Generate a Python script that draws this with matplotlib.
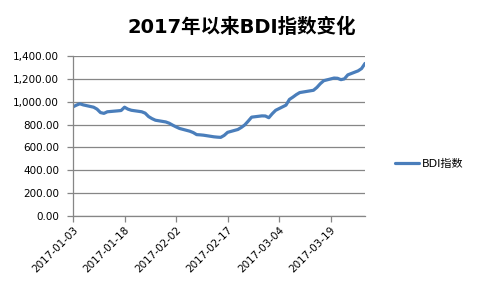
import matplotlib
matplotlib.use("Agg")
import matplotlib.pyplot as plt
import matplotlib.dates as mdates
import matplotlib.ticker as mticker
import numpy as np
import datetime as dt

plt.rcParams['font.family'] = ['DejaVu Sans', 'Noto Sans CJK SC']

title = "2017年以来BDI指数变化"
series_name = "BDI指数"

dates = [
    "2017-01-03", "2017-01-04", "2017-01-05", "2017-01-06",
    "2017-01-09", "2017-01-10", "2017-01-11", "2017-01-12", "2017-01-13",
    "2017-01-16", "2017-01-17", "2017-01-18", "2017-01-19", "2017-01-20",
    "2017-01-23", "2017-01-24", "2017-01-25", "2017-01-26", "2017-01-27",
    "2017-01-30", "2017-01-31", "2017-02-01", "2017-02-02", "2017-02-03",
    "2017-02-06", "2017-02-07", "2017-02-08", "2017-02-09", "2017-02-10",
    "2017-02-13", "2017-02-14", "2017-02-15", "2017-02-16", "2017-02-17",
    "2017-02-20", "2017-02-21", "2017-02-22", "2017-02-23", "2017-02-24",
    "2017-02-27", "2017-02-28", "2017-03-01", "2017-03-02", "2017-03-03",
    "2017-03-06", "2017-03-07", "2017-03-08", "2017-03-09", "2017-03-10",
    "2017-03-13", "2017-03-14", "2017-03-15", "2017-03-16", "2017-03-17",
    "2017-03-20", "2017-03-21", "2017-03-22", "2017-03-23", "2017-03-24",
    "2017-03-27", "2017-03-28", "2017-03-29",
]
bdi = [
    955, 970, 982, 972,
    952, 935, 905, 898, 912,
    920, 923, 952, 935, 925,
    912, 900, 870, 852, 838,
    823, 812, 795, 780, 766,
    742, 730, 712, 710, 707,
    693, 690, 688, 705, 732,
    757, 775, 797, 830, 865,
    876, 875, 860, 895, 925,
    970, 1020, 1040, 1062, 1080,
    1095, 1100, 1125, 1158, 1184,
    1207, 1205, 1193, 1200, 1235,
    1270, 1290, 1335,
]
tick_dates = ["2017-01-03", "2017-01-18", "2017-02-02", "2017-02-17", "2017-03-04", "2017-03-19"]
y_ticks = [0, 200, 400, 600, 800, 1000, 1200, 1400]

x = [dt.datetime.strptime(d, "%Y-%m-%d") for d in dates]
xt = [dt.datetime.strptime(d, "%Y-%m-%d") for d in tick_dates]

fig = plt.figure(figsize=(4.84, 2.92), dpi=100)
ax = fig.add_axes([73/484, 1 - 216/292, (365-73)/484, (216-56)/292])

line, = ax.plot(x, bdi, color="#4A7EBB", lw=2.3, solid_joinstyle="round", solid_capstyle="round",
                label=series_name)

ax.set_xlim(x[0], x[-1])
ax.set_ylim(0, 1400)
ax.set_yticks(y_ticks)
ax.yaxis.set_major_formatter(mticker.FuncFormatter(lambda v, p: f"{v:,.2f}"))
ax.set_xticks(xt)
ax.xaxis.set_major_formatter(mdates.DateFormatter("%Y-%m-%d"))
for lab in ax.get_xticklabels():
    lab.set_rotation(45)
    lab.set_ha("right")
    lab.set_rotation_mode("anchor")

ax.grid(axis="y", color="#868686", lw=0.9)
ax.set_axisbelow(True)
for s in ["top", "right"]:
    ax.spines[s].set_visible(False)
for s in ["left", "bottom"]:
    ax.spines[s].set_color("#868686")
    ax.spines[s].set_linewidth(0.9)
ax.tick_params(axis="both", colors="#868686", labelcolor="black", labelsize=7.5, length=4, width=0.9)
ax.tick_params(axis="y", pad=6)
ax.tick_params(axis="x", pad=2)

fig.text(242/484, 1 - 27/292, title, ha="center", va="center", fontsize=14, fontweight="bold",
         family=['DejaVu Sans', 'Noto Sans CJK SC'])

fig.legend(handles=[line], loc="center left", bbox_to_anchor=(385/484, 1 - 164/292), frameon=False,
           fontsize=8, handlelength=2.2, handletextpad=0.2)

fig.savefig("out.png", dpi=100)
